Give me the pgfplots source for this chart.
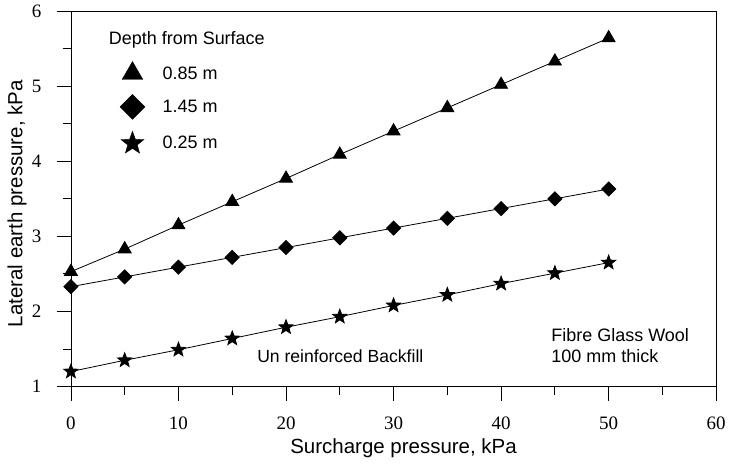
\documentclass[border=0pt]{standalone}
\usepackage{pgfplots}
\pgfplotsset{compat=1.18}
\usepackage{fontspec}
\setmainfont{Liberation Sans}
\newfontfamily\tickfont{Liberation Serif}
\pgfdeclareplotmark{fstar}{%
  \pgfpathmoveto{\pgfpointpolar{90}{\pgfplotmarksize}}%
  \pgfpathlineto{\pgfpointpolar{126}{0.42\pgfplotmarksize}}%
  \pgfpathlineto{\pgfpointpolar{162}{\pgfplotmarksize}}%
  \pgfpathlineto{\pgfpointpolar{198}{0.42\pgfplotmarksize}}%
  \pgfpathlineto{\pgfpointpolar{234}{\pgfplotmarksize}}%
  \pgfpathlineto{\pgfpointpolar{270}{0.42\pgfplotmarksize}}%
  \pgfpathlineto{\pgfpointpolar{306}{\pgfplotmarksize}}%
  \pgfpathlineto{\pgfpointpolar{342}{0.42\pgfplotmarksize}}%
  \pgfpathlineto{\pgfpointpolar{18}{\pgfplotmarksize}}%
  \pgfpathlineto{\pgfpointpolar{54}{0.42\pgfplotmarksize}}%
  \pgfpathclose
  \pgfusepathqfillstroke}
\begin{document}
\begin{tikzpicture}
\begin{axis}[
  at={(0,0)}, anchor=south west,
  scale only axis, width=646bp, height=376bp,
  xmin=0, xmax=60, ymin=1, ymax=6,
  xtick={0,10,...,60}, minor xtick={5,15,...,55},
  ytick={1,2,...,6}, minor ytick={1.5,2.5,...,5.5},
  xtick pos=left, ytick pos=left,
  major tick length=14bp, minor tick length=8bp,
  tick style={black, line width=0.8bp},
  tick align=outside,
  axis line style={line width=0.8bp},
  /pgf/number format/assume math mode=true,
  tick label style={font=\tickfont\fontsize{19bp}{21bp}\selectfont},
  xticklabel style={yshift=-13bp},
  yticklabel style={xshift=-12bp},
  label style={font=\fontsize{20.5bp}{23bp}\selectfont},
  xlabel={Surcharge pressure, kPa},
  ylabel={Lateral earth pressure, kPa},
  xlabel style={at={(axis description cs:0.5155,-0.165)}, anchor=center},
  ylabel style={at={(axis description cs:-0.0836,0.487)}, anchor=center},
  legend style={at={(axis cs:4.55,5.33)}, anchor=north west, draw=none, fill=none,
    font=\fontsize{18bp}{21bp}\selectfont, row sep=12bp, inner sep=0pt,
    /tikz/every even column/.append style={column sep=0bp}},
  legend cell align=left,
  legend image code/.code={\draw[#1] plot coordinates {(0bp,0bp)}; \path (-12bp,0) (28bp,0);},
]
\addplot[forget plot, black, line width=0.8bp, mark=triangle*, mark size=7.5bp]
coordinates {(0,2.53) (5,2.83) (10,3.15) (15,3.46) (20,3.77) (25,4.09) (30,4.40) (35,4.71) (40,5.02) (45,5.33) (50,5.64)};
\addplot[forget plot, black, line width=0.8bp, mark=square*, mark size=5bp, mark options={rotate=45}]
coordinates {(0,2.33) (5,2.46) (10,2.59) (15,2.72) (20,2.85) (25,2.98) (30,3.11) (35,3.24) (40,3.37) (45,3.50) (50,3.63)};
\addplot[forget plot, black, line width=0.8bp, mark=fstar, mark size=7.5bp]
coordinates {(0,1.20) (5,1.35) (10,1.49) (15,1.64) (20,1.79) (25,1.93) (30,2.08) (35,2.22) (40,2.37) (45,2.51) (50,2.65)};
\addlegendimage{only marks, black, mark=triangle*, mark size=12bp}
\addlegendentry{0.85 m}
\addlegendimage{only marks, black, mark=square*, mark size=8.8bp, mark options={rotate=45}}
\addlegendentry{1.45 m}
\addlegendimage{only marks, black, mark=fstar, mark size=12bp}
\addlegendentry{0.25 m}
\node[anchor=west, font=\fontsize{18bp}{21bp}\selectfont] at (axis cs:3.2,5.61) {Depth from Surface};
\node[anchor=west, font=\fontsize{17.6bp}{21bp}\selectfont] at (axis cs:17.0,1.40) {Un reinforced Backfill};
\node[anchor=west, align=left, font=\fontsize{18bp}{21bp}\selectfont, inner xsep=0pt] at (axis cs:44.66,1.54) {Fibre Glass Wool\\100 mm thick};
\end{axis}
\path[use as bounding box] (-71bp,-78bp) rectangle (658bp,387bp);
\end{tikzpicture}
\end{document}
